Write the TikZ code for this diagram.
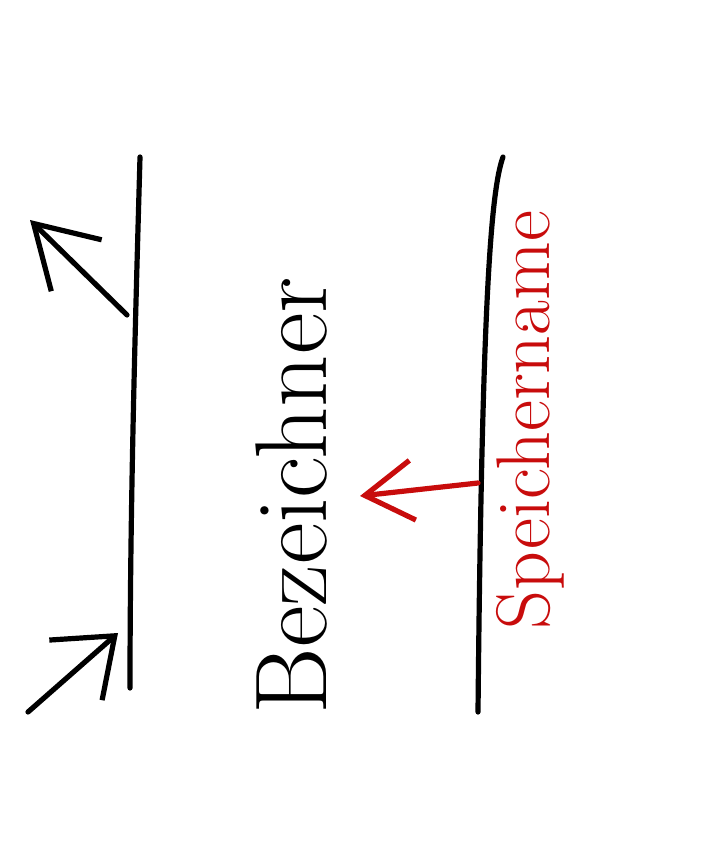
\documentclass[tikz,border=0pt]{standalone}
\usetikzlibrary{arrows.meta}
\definecolor{penred}{RGB}{200,12,12}
\begin{document}
\begin{tikzpicture}[x=0.5pt,y=-0.5pt,line width=2.6pt,line cap=round,line join=round]
\useasboundingbox (0,0) rectangle (718,865);
\coordinate (lt) at (140,157);
\coordinate (lb) at (130,688);
\coordinate (rt) at (503,157);
\coordinate (rb) at (478,712);
\draw (lt) .. controls (136,300) and (130,500) .. (lb);
\draw (rt) .. controls (491,190) and (482,300) .. (rb);
% arrows into and out of the line
\coordinate (outfrom) at (127,315);
\coordinate (outto) at (30,220);
\draw [-{Straight Barb[length=30pt,width=36pt]}] (outfrom) -- (outto);
\coordinate (infrom) at (28,712);
\coordinate (into) at (118,633);
\draw [-{Straight Barb[length=26pt,width=40pt]}] (infrom) -- (into);
\coordinate (redfrom) at (478,483);
\coordinate (redto) at (360,496);
\draw [penred, -{Straight Barb[length=24pt,width=30pt]}] (redfrom) -- (redto);
\node [rotate=90, font=\fontsize{51}{58}\selectfont] (bez) at (292,496) {Bezeichner};
\node [rotate=90, text=penred, font=\fontsize{38}{44}\selectfont] (speicher) at (530,420) {Speichername};
\end{tikzpicture}
\end{document}
